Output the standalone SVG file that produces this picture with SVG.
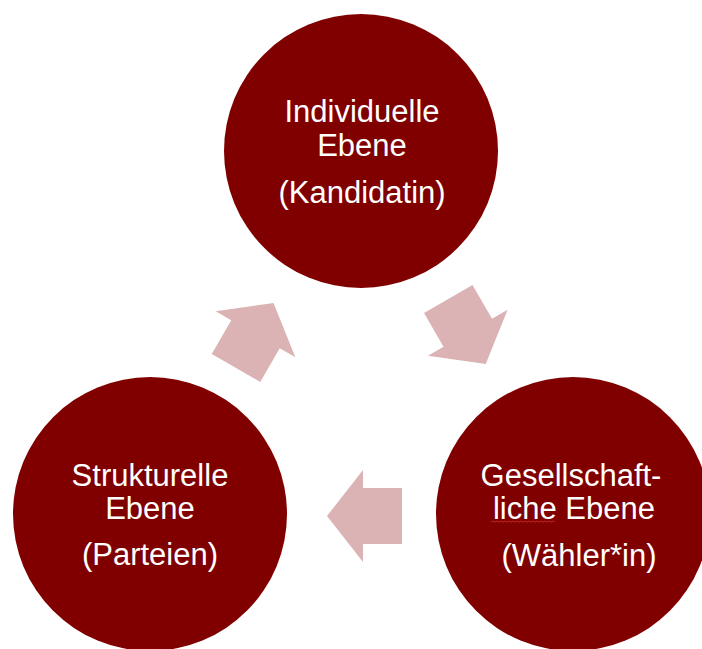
<svg xmlns="http://www.w3.org/2000/svg" width="702" height="649" viewBox="0 0 702 649">
<style>
.node{fill:#800000}
.lbl{fill:#ffffff;font-family:"Liberation Sans",Arial,sans-serif;font-size:31px;text-anchor:middle}
.arr{fill:#dbb3b4}
</style>
<defs>
<path id="arrow" d="M-37.5,-28 L1.5,-28 L1.5,-46 L37.5,0 L1.5,46 L1.5,28 L-37.5,28 Z"/>
</defs>
<rect width="702" height="649" fill="#ffffff"/>
<g id="connectors" class="arr">
<use href="#arrow" transform="translate(254.75,335.5) rotate(-60)"/>
<use href="#arrow" transform="translate(467,331.5) rotate(60)"/>
<use href="#arrow" transform="translate(364.5,516) rotate(180)"/>
</g>
<g id="node-individuell">
<circle class="node" cx="361" cy="151" r="137"/>
<text class="lbl" x="362" y="122">Individuelle</text>
<text class="lbl" x="362" y="156">Ebene</text>
<text class="lbl" x="362" y="203">(Kandidatin)</text>
</g>
<g id="node-strukturell">
<circle class="node" cx="150" cy="514" r="137"/>
<text class="lbl" x="150" y="486">Strukturelle</text>
<text class="lbl" x="150" y="519">Ebene</text>
<text class="lbl" x="150" y="565">(Parteien)</text>
</g>
<g id="node-gesellschaftlich">
<circle class="node" cx="573" cy="514" r="137"/>
<text class="lbl" x="571" y="486">Gesellschaft-</text>
<text class="lbl" x="574" y="519">liche Ebene</text>
<text class="lbl" x="579" y="566">(Wähler*in)</text>
<path d="M491,522 l2,-1 l2,1 l2,-1 l2,1 l2,-1 l2,1 l2,-1 l2,1 l2,-1 l2,1 l2,-1 l2,1 l2,-1 l2,1 l2,-1 l2,1 l2,-1 l2,1 l2,-1 l2,1 l2,-1 l2,1 l2,-1 l2,1 l2,-1 l2,1 l2,-1 l2,1 l2,-1 l2,1 l2,-1 l2,1" fill="none" stroke="#d03030" stroke-width="0.8"/>
</g>
</svg>
